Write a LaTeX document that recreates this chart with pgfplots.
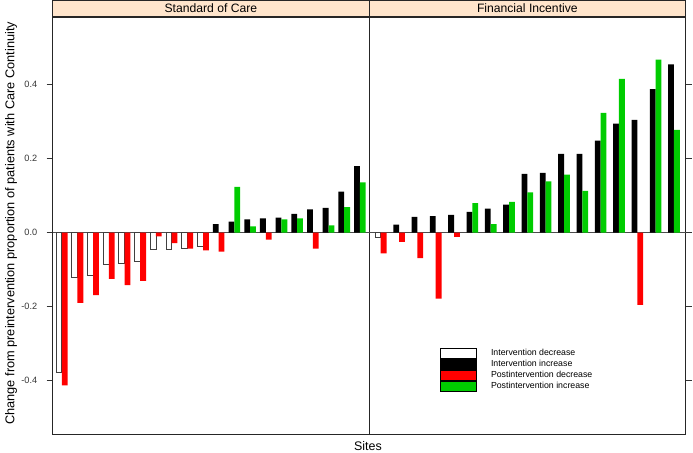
\documentclass[border=0pt]{standalone}
\usepackage{fontspec}
\setmainfont{Liberation Sans}
\usepackage{pgfplots}
\pgfplotsset{compat=1.18}
\definecolor{strip}{HTML}{FFE5CC}
\definecolor{barred}{RGB}{255,0,0}
\definecolor{bargreen}{RGB}{0,204,0}
\tikzset{stripnode/.style={anchor=south, fill=strip, draw=black!85, line width=0.8bp, minimum height=16bp, inner sep=0pt, font=\fontsize{12.2}{14}\selectfont}}
\pgfplotsset{
 panel/.style={
  scale only axis, height=417.3bp,
  ymin=-0.5449, ymax=0.583,
  ytick={-0.4,-0.2,0,0.2,0.4},
  xtick=\empty,
  tick align=outside, major tick length=6bp,
  tick style={black!80, line width=0.8bp},
  axis line style={black!85, line width=0.8bp},
  ybar, bar width=5.8bp,
  clip=false,
  /pgf/number format/assume math mode=true,
  yticklabel style={/pgf/number format/fixed, /pgf/number format/fixed zerofill, /pgf/number format/precision=1, font=\fontsize{9.2}{11}\selectfont, text=black!80, xshift=-6bp},
  extra y ticks={0}, extra y tick labels={},
  extra y tick style={grid=major, major tick length=0pt, major grid style={black!70, line width=0.8bp}},
  legend image code/.code={\draw[#1,/tikz/.cd,draw=black,line width=0.8bp] (0bp,-5bp) rectangle (36bp,5bp);},
 },
 wbar/.style={fill=white, draw=black!75, line width=0.6bp, bar shift=-2.9bp},
 bbar/.style={fill=black, draw=none, bar shift=-2.9bp},
 rbar/.style={fill=barred, draw=none, bar shift=2.9bp},
 gbar/.style={fill=bargreen, draw=none, bar shift=2.9bp},
}
\begin{document}
\begin{tikzpicture}
\useasboundingbox (0,0) rectangle (693bp,453bp);
\begin{axis}[panel, at={(52.7bp,18.7bp)}, anchor=south west, width=316.3bp,
  xmin=0.42, xmax=20.58, ytick pos=left]
\addplot[wbar] coordinates {(1,-0.376) (2,-0.121) (3,-0.114) (4,-0.086) (5,-0.084) (6,-0.078) (7,-0.045) (8,-0.045) (9,-0.041) (10,-0.036)};
\addplot[bbar] coordinates {(11,0.023) (12,0.030) (13,0.036) (14,0.039) (15,0.041) (16,0.051) (17,0.063) (18,0.067) (19,0.111) (20,0.180)};
\addplot[rbar] coordinates {(1,-0.413) (2,-0.190) (3,-0.169) (4,-0.125) (5,-0.142) (6,-0.130) (7,-0.010) (8,-0.028) (9,-0.043) (10,-0.048) (11,-0.051) (14,-0.019) (17,-0.043)};
\addplot[gbar] coordinates {(12,0.124) (13,0.017) (15,0.036) (16,0.039) (18,0.020) (19,0.069) (20,0.136)};
\node[stripnode, minimum width=316.3bp] at (rel axis cs:0.5,1) {Standard of Care};
\end{axis}
\begin{axis}[panel, at={(369bp,18.7bp)}, anchor=south west, width=316.7bp,
  xmin=0.36, xmax=17.64, ytick pos=right, yticklabels={},
  legend style={at={(0.2242,0.2061)}, anchor=north west, draw=none, fill=none, inner sep=0pt, row sep=0pt,
    font=\fontsize{8.8}{10}\selectfont, nodes={inner sep=0pt, text height=7bp, text depth=3bp},
    /tikz/every odd column/.append style={column sep=14bp}},
  legend cell align=left]
\addplot[wbar] coordinates {(1,-0.013)};
\addlegendentry{Intervention decrease}
\addplot[bbar] coordinates {(2,0.022) (3,0.043) (4,0.045) (5,0.048) (6,0.056) (7,0.065) (8,0.076) (9,0.159) (10,0.162) (11,0.213) (12,0.213) (13,0.249) (14,0.295) (15,0.305) (16,0.388) (17,0.455)};
\addlegendentry{Intervention increase}
\addplot[rbar] coordinates {(1,-0.056) (2,-0.025) (3,-0.069) (4,-0.178) (5,-0.011) (15,-0.195)};
\addlegendentry{Postintervention decrease}
\addplot[gbar] coordinates {(6,0.080) (7,0.023) (8,0.083) (9,0.109) (10,0.139) (11,0.157) (12,0.113) (13,0.324) (14,0.416) (16,0.468) (17,0.278)};
\addlegendentry{Postintervention increase}
\node[stripnode, minimum width=316.7bp] at (rel axis cs:0.5,1) {Financial Incentive};
\end{axis}
\node[rotate=90, font=\fontsize{12.8}{14}\selectfont] at (11bp,229.7bp) {Change from preintervention proportion of patients with Care Continuity};
\node[font=\fontsize{12.5}{14}\selectfont] at (368bp,6.5bp) {Sites};
\end{tikzpicture}
\end{document}
